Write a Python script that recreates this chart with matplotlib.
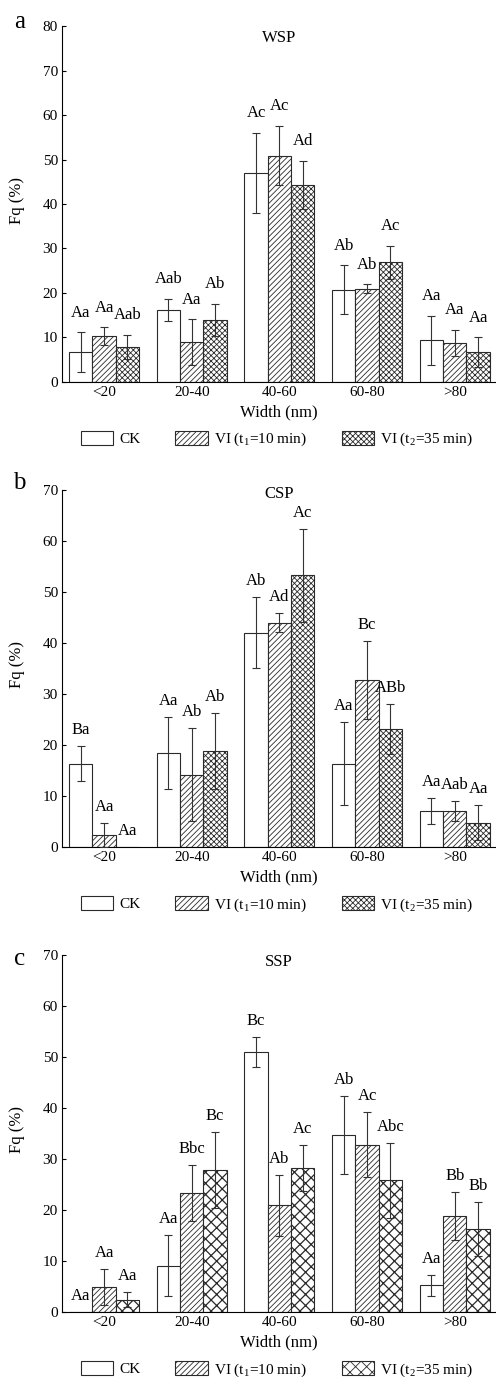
import numpy as np
from matplotlib import pyplot as plt

plt.rcParams['font.family'] = ['Liberation Serif', 'DejaVu Serif']
plt.rcParams['mathtext.fontset'] = 'custom'
plt.rcParams['mathtext.rm'] = 'Liberation Serif'
plt.rcParams['mathtext.it'] = 'Liberation Serif:italic'
plt.rcParams['hatch.linewidth'] = 0.6

# width classes
widths = ['<20', '20-40', '40-60', '60-80', '>80']
series = ['CK', r'VI (t$_{1}$=10 min)', r'VI (t$_{2}$=35 min)']

# WSP (panel a)
wsp_ck = [6.7, 16.2, 47.0, 20.7, 9.4]
wsp_ck_err = [4.5, 2.5, 9.0, 5.5, 5.5]
wsp_t1 = [10.25, 9.0, 50.9, 21.0, 8.8]
wsp_t1_err = [2.0, 5.1, 6.7, 1.0, 2.9]
wsp_t2 = [7.9, 14.0, 44.3, 26.9, 6.7]
wsp_t2_err = [2.7, 3.6, 5.4, 3.7, 3.3]
wsp_letters = [['Aa', 'Aab', 'Ac', 'Ab', 'Aa'],
               ['Aa', 'Aa', 'Ac', 'Ab', 'Aa'],
               ['Aab', 'Ab', 'Ad', 'Ac', 'Aa']]

# CSP (panel b)
csp_ck = [16.35, 18.4, 42.0, 16.35, 7.05]
csp_ck_err = [3.5, 7.0, 7.0, 8.1, 2.6]
csp_t1 = [2.35, 14.2, 44.0, 32.7, 7.05]
csp_t1_err = [2.35, 9.1, 1.8, 7.6, 2.0]
csp_t2 = [0, 18.8, 53.3, 23.1, 4.8]
csp_t2_err = [0, 7.5, 9.1, 4.9, 3.5]
csp_letters = [['Ba', 'Aa', 'Ab', 'Aa', 'Aa'],
               ['Aa', 'Ab', 'Ad', 'Bc', 'Aab'],
               ['Aa', 'Ab', 'Ac', 'ABb', 'Aa']]

# SSP (panel c)
ssp_ck = [0, 9.1, 51.0, 34.7, 5.2]
ssp_ck_err = [0, 6.0, 3.0, 7.7, 2.0]
ssp_t1 = [4.9, 23.4, 20.9, 32.8, 18.8]
ssp_t1_err = [3.5, 5.5, 6.0, 6.4, 4.7]
ssp_t2 = [2.4, 27.8, 28.3, 25.8, 16.2]
ssp_t2_err = [1.5, 7.5, 4.5, 7.4, 5.3]
ssp_letters = [['Aa', 'Aa', 'Bc', 'Ab', 'Aa'],
               ['Aa', 'Bbc', 'Ab', 'Ac', 'Bb'],
               ['Aa', 'Bc', 'Ac', 'Abc', 'Bb']]

panels = [
    ('a', 'WSP', [wsp_ck, wsp_t1, wsp_t2], [wsp_ck_err, wsp_t1_err, wsp_t2_err], wsp_letters, 80),
    ('b', 'CSP', [csp_ck, csp_t1, csp_t2], [csp_ck_err, csp_t1_err, csp_t2_err], csp_letters, 70),
    ('c', 'SSP', [ssp_ck, ssp_t1, ssp_t2], [ssp_ck_err, ssp_t1_err, ssp_t2_err], ssp_letters, 70),
]

# layout in figure fractions (bottom, height), title y, letter pos, label offset
boxes = [(0.7226, 0.2585), (0.3849, 0.2593), (0.0472, 0.2593)]
title_y = [0.966, 0.99, 0.98]
letter_y = [1.011, 1.02, 0.989]
label_off = [14, 11.5, 11.5]
dense_hatch = ['', '//////', 'xxxxxx']
coarse_hatch = ['', '//////', 'xxx']
hatch_lw = [[0.6, 0.6, 0.6], [0.6, 0.6, 0.6], [0.6, 0.6, 0.9]]

fig = plt.figure(figsize=(4.96, 13.77), dpi=100)
x = np.arange(len(widths))
bw = 0.266
edge = '#2a2a2a'

for i, (letter, title, vals, errs, letters, ymax) in enumerate(panels):
    ax = fig.add_axes([0.125, boxes[i][0], 0.875, boxes[i][1]])
    hatches = coarse_hatch if i == 2 else dense_hatch
    for j in range(3):
        xs = x + (j - 1) * bw
        v = np.array(vals[j], dtype=float)
        e = np.array(errs[j], dtype=float)
        with plt.rc_context({'hatch.linewidth': hatch_lw[i][j]}):
            ax.bar(xs, v, bw, color='white', edgecolor=edge, linewidth=0.8,
                   hatch=hatches[j], label=series[j], zorder=2)
        ye = np.where(e > 0, v, np.nan)
        ax.errorbar(xs, ye, yerr=e, fmt='none', ecolor='#333333',
                    elinewidth=0.8, capsize=3, capthick=0.8, zorder=3)
        for k in range(len(widths)):
            ax.annotate(letters[j][k], (xs[k], v[k] + e[k]),
                        xytext=(0, label_off[i]), textcoords='offset points',
                        ha='center', va='center', fontsize=12)
    ax.set_xlim(-0.48, 4.47)
    ax.set_ylim(0, ymax)
    ax.set_yticks(range(0, ymax + 1, 10))
    ax.set_xticks(x)
    ax.set_xticklabels(widths)
    ax.tick_params(axis='y', direction='in', length=3, labelsize=11, pad=3)
    ax.tick_params(axis='x', length=0, labelsize=11, pad=3)
    for s in ['top', 'right']:
        ax.spines[s].set_visible(False)
    ax.spines['left'].set_linewidth(0.8)
    ax.spines['bottom'].set_linewidth(0.8)
    ax.set_xlabel('Width (nm)', fontsize=12)
    ax.xaxis.set_label_coords(0.5, -0.064)
    ax.set_ylabel('Fq (%)', fontsize=12)
    ax.yaxis.set_label_coords(-0.085, 0.51)
    ax.text(0.5, title_y[i], title, transform=ax.transAxes,
            ha='center', va='center', fontsize=12)
    ax.text(-0.098, letter_y[i], letter, transform=ax.transAxes,
            ha='center', va='center', fontsize=18)
    ax.legend(loc='center', bbox_to_anchor=(0.495, -0.162), ncol=3,
              frameon=False, fontsize=11, handlelength=2.1, handleheight=1.0,
              handletextpad=0.4, columnspacing=2.3)

fig.savefig('out.png', dpi=100)
